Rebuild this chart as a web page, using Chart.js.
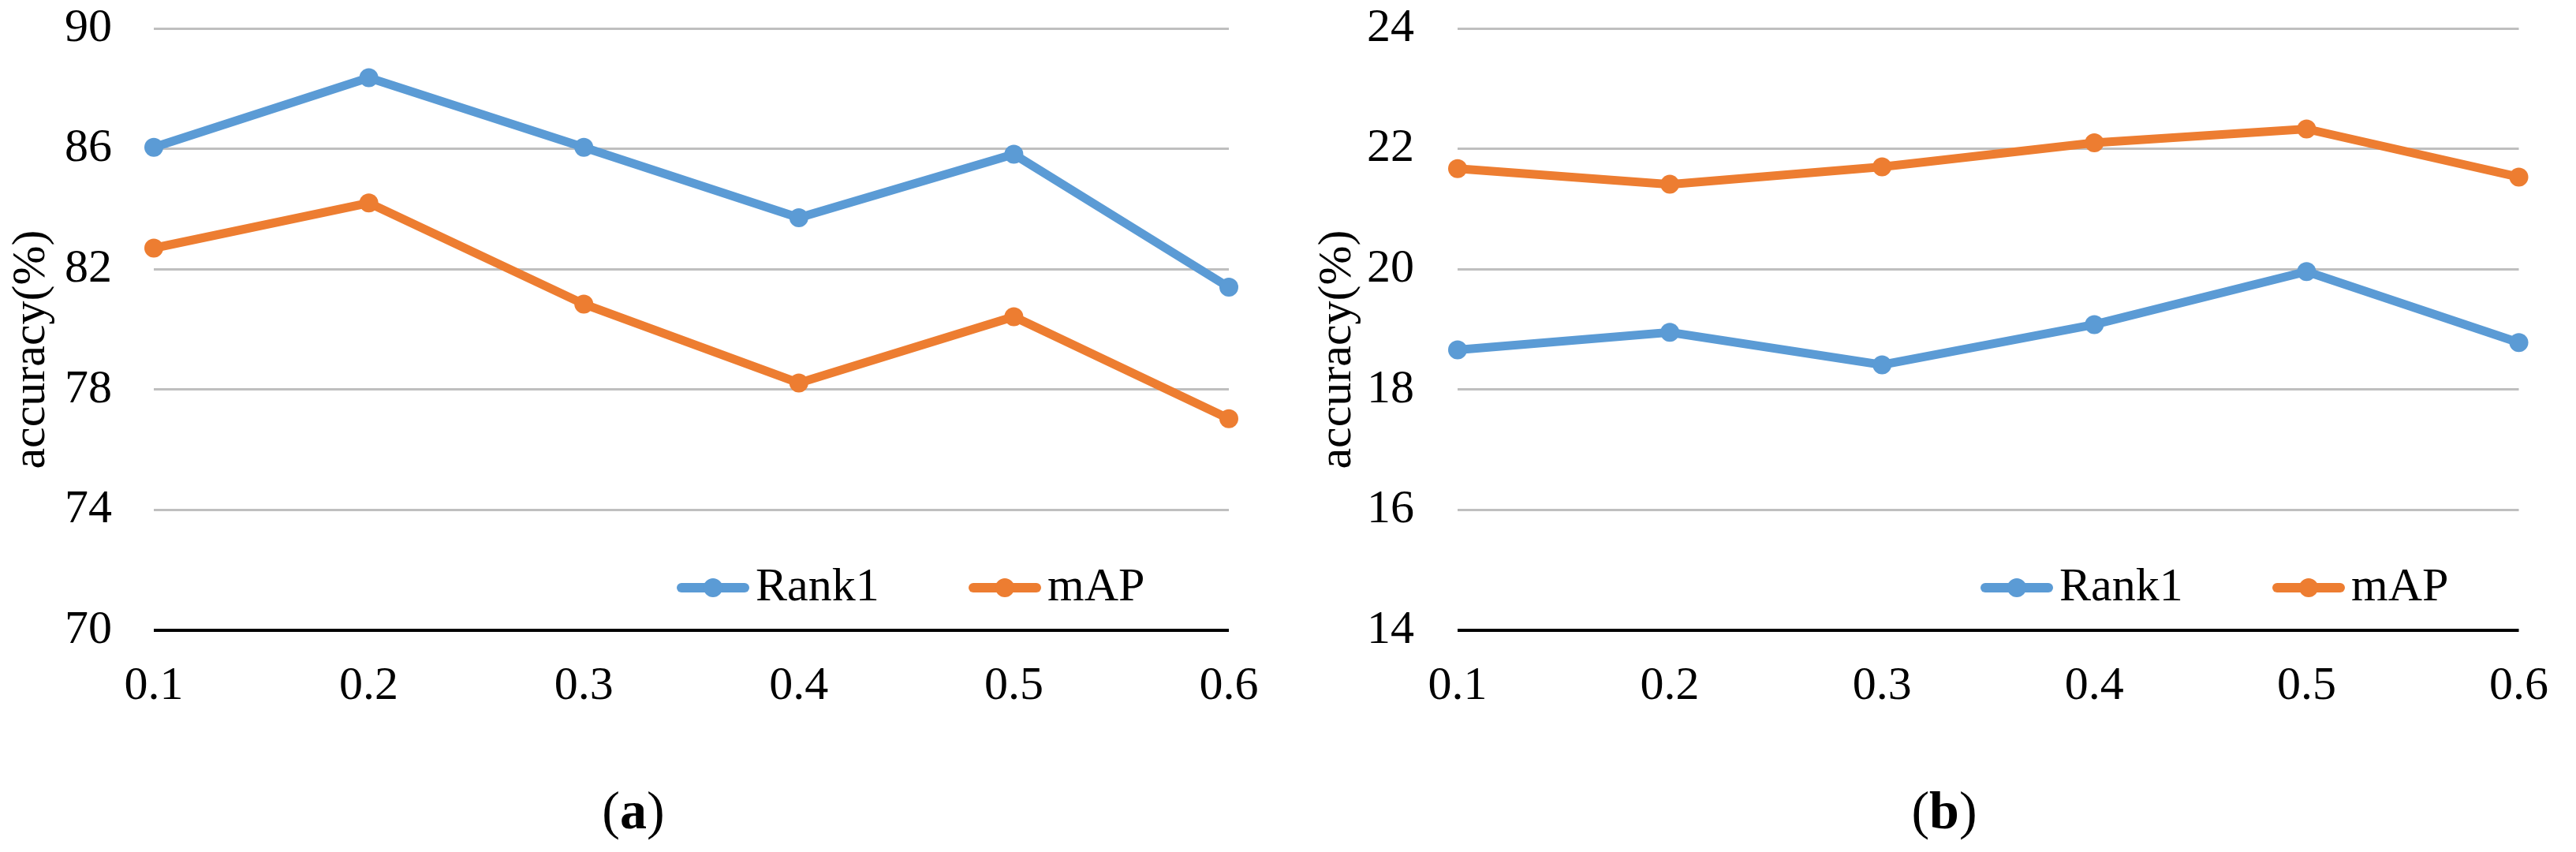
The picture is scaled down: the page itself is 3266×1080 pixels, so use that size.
<!DOCTYPE html>
<html>
<head>
<meta charset="utf-8">
<script src="https://cdn.jsdelivr.net/npm/chart.js@4.4.1/dist/chart.umd.min.js"></script>
<style>
  html, body { margin: 0; padding: 0; background: #fff; }
  body { width: 3266px; height: 1080px; position: relative; overflow: hidden; font-family: "Liberation Serif", "Times New Roman", serif; }
  .panel { position: absolute; top: 0; width: 1633px; height: 1080px; }
  .caption { position: absolute; top: 1027px; font-size: 68px; color: #000; transform: translate(-50%, -50%); white-space: nowrap; }
</style>
</head>
<body>
<div class="panel" style="left:0"><canvas id="chart-a"></canvas></div>
<div class="panel" style="left:1633px"><canvas id="chart-b"></canvas></div>
<div class="caption" style="left:803px">(<b>a</b>)</div>
<div class="caption" style="left:2465px">(<b>b</b>)</div>
<script>
// dados
const ratios = ["0.1", "0.2", "0.3", "0.4", "0.5", "0.6"];

const rank1A = [86.05, 88.36, 86.05, 83.71, 85.82, 81.40];
const mapA = [82.70, 84.20, 80.84, 78.22, 80.42, 77.03];
const yTicksA = [70, 74, 78, 82, 86, 90];

const rank1B = [18.66, 18.95, 18.41, 19.08, 19.96, 18.78];
const mapB = [21.67, 21.41, 21.70, 22.10, 22.33, 21.53];
const yTicksB = [14, 16, 18, 20, 22, 24];

const Y_TITLE = "accuracy(%)";

const BLUE = "#5B9BD5";
const ORANGE = "#ED7D31";
const FONT_FAMILY = "'Liberation Serif', 'Times New Roman', serif";

Chart.defaults.font.family = FONT_FAMILY;
Chart.defaults.color = "#000";

// legenda dentro da área do gráfico e título do eixo Y (um pouco abaixo do centro, como no Excel)
const excelExtras = {
    id: "excelExtras",
    afterDatasetsDraw(chart, args, opts) {
        const { ctx, chartArea } = chart;
        ctx.save();
        ctx.font = "60px " + FONT_FAMILY;
        chart.data.datasets.forEach((ds, i) => {
            const x0 = chartArea.left + 663 + i * 370;
            const y = chartArea.top + 709;
            ctx.strokeStyle = ds.borderColor;
            ctx.lineWidth = 12;
            ctx.lineCap = "round";
            ctx.beginPath();
            ctx.moveTo(x0 + 6, y);
            ctx.lineTo(x0 + 86, y);
            ctx.stroke();
            ctx.fillStyle = ds.borderColor;
            ctx.beginPath();
            ctx.arc(x0 + 46, y, 12, 0, Math.PI * 2);
            ctx.fill();
            ctx.fillStyle = "#000";
            ctx.textAlign = "left";
            ctx.textBaseline = "middle";
            ctx.fillText(ds.label, x0 + 100, y);
        });

        ctx.translate(opts.titleX, chartArea.top + 407);
        ctx.rotate(-Math.PI / 2);
        ctx.fillStyle = "#000";
        ctx.textAlign = "center";
        ctx.textBaseline = "middle";
        ctx.fillText(Y_TITLE, 0, 0);
        ctx.restore();
    },
};

function makeDataset(label, data, color) {
    return {
        label: label,
        data: data,
        borderColor: color,
        backgroundColor: color,
        borderWidth: 11,
        pointRadius: 12,
        pointHoverRadius: 12,
        pointBorderWidth: 0,
        pointBackgroundColor: color,
        tension: 0,
        clip: false,
    };
}

/**
 * Cria um dos dois painéis. axisWidth = largura do eixo Y,
 * rightPad = espaço à direita da área do gráfico.
 */
function renderPanel(canvasId, rank1, map, yTicks, axisWidth, rightPad, titleX, tickPad) {
    const ctx = document.getElementById(canvasId).getContext("2d");
    return new Chart(ctx, {
        type: "line",
        data: {
            labels: ratios,
            datasets: [
                makeDataset("Rank1", rank1, BLUE),
                makeDataset("mAP", map, ORANGE),
            ],
        },
        options: {
            responsive: true,
            maintainAspectRatio: false,
            animation: false,
            layout: { padding: { top: 36, right: rightPad, bottom: 0, left: 0 } },
            plugins: {
                legend: { display: false },
                tooltip: { enabled: false },
                excelExtras: { titleX: titleX },
            },
            scales: {
                x: {
                    offset: false,
                    grid: { display: false, drawTicks: false },
                    border: { display: false },
                    ticks: {
                        padding: 35,
                        maxRotation: 0,
                        autoSkip: false,
                        font: { size: 60 },
                    },
                    afterFit: (scale) => { scale.height = 281; },
                },
                y: {
                    min: yTicks[0],
                    max: yTicks[yTicks.length - 1],
                    grid: {
                        drawTicks: false,
                        color: (c) => (c.index === 0 ? "#000" : "#BFBFBF"),
                        lineWidth: (c) => (c.index === 0 ? 4 : 3),
                    },
                    border: { display: false },
                    ticks: {
                        stepSize: yTicks[1] - yTicks[0],
                        padding: tickPad,
                        font: { size: 60 },
                    },
                    afterFit: (scale) => {
                        scale.width = axisWidth;
                        // sem isso o padding dos ticks empurra o topo para baixo
                        scale.paddingTop = 0;
                        scale.paddingBottom = 0;
                    },
                },
            },
        },
        plugins: [excelExtras],
    });
}

renderPanel("chart-a", rank1A, mapA, yTicksA, 195, 75, 40, 53);
renderPanel("chart-b", rank1B, mapB, yTicksB, 215, 58, 63, 55);
</script>
</body>
</html>
